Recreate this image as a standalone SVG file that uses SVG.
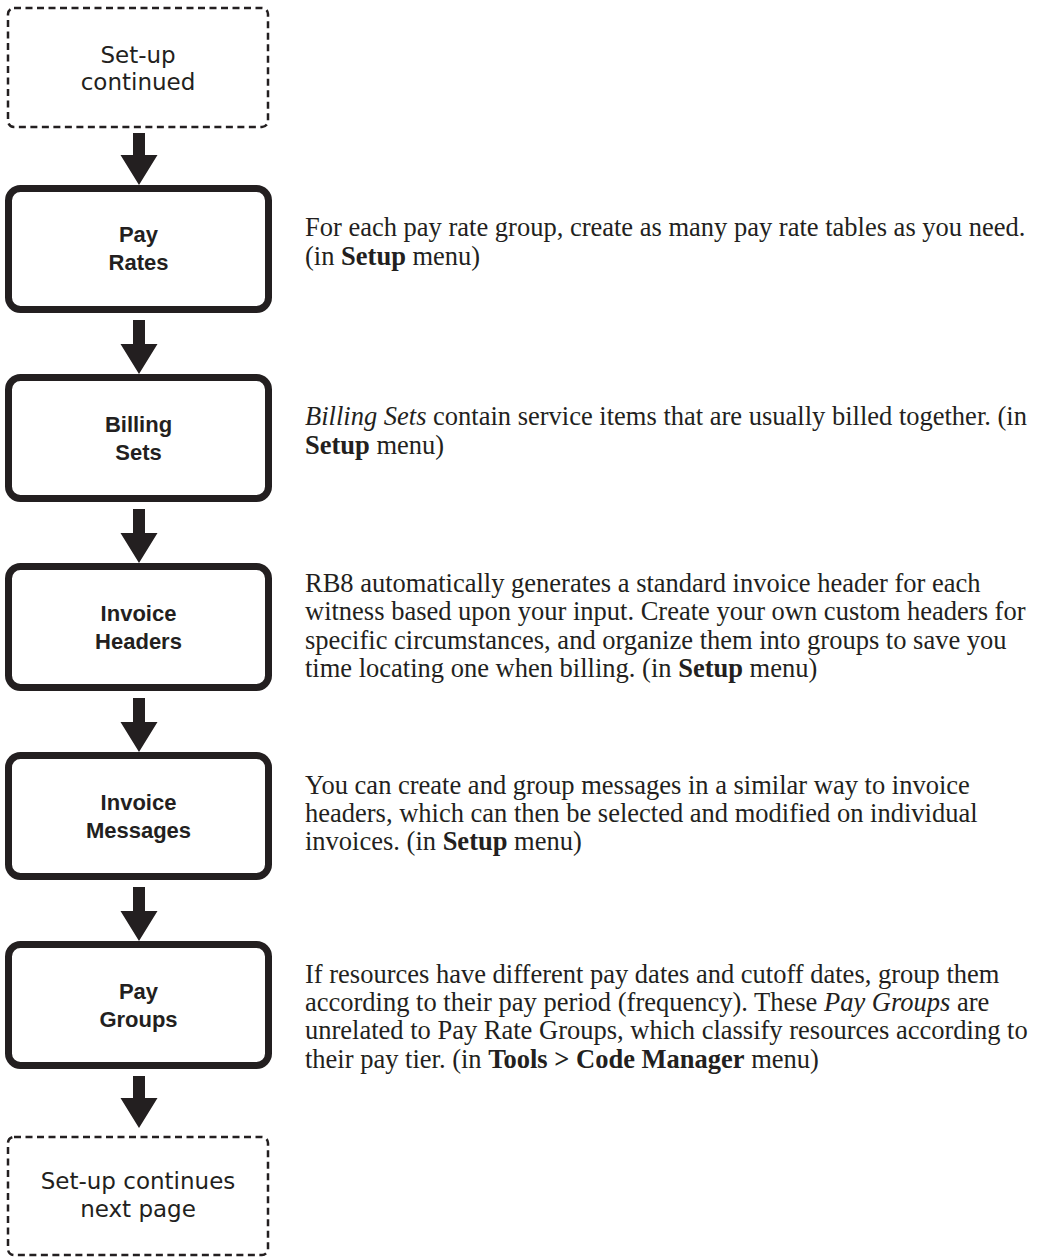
<svg xmlns="http://www.w3.org/2000/svg" width="1038" height="1257" viewBox="0 0 1038 1257">
<style>
.box{fill:#fff;stroke:#231f20;stroke-width:7}
.dbox{fill:#fff;stroke:#231f20;stroke-width:2.5;stroke-dasharray:7 4.5}
.lbl{font-family:"Liberation Sans",Arial,sans-serif;font-weight:bold;font-size:22px;fill:#231f20;text-anchor:middle}
.dlbl{font-family:"DejaVu Sans",sans-serif;font-size:23px;fill:#231f20;text-anchor:middle}
.desc{font-family:"Liberation Serif","Times New Roman",serif;font-size:26.5px;fill:#231f20}
.arr{fill:#231f20}
</style>
<rect width="1038" height="1257" fill="#fff"/>
<g id="connectors">
<path class="arr" d="M133,133 H145 V155 H157.5 L139,185 L120.5,155 H133 Z"/>
<path class="arr" d="M133,320 H145 V344 H157.5 L139,374 L120.5,344 H133 Z"/>
<path class="arr" d="M133,509 H145 V533 H157.5 L139,563 L120.5,533 H133 Z"/>
<path class="arr" d="M133,698 H145 V722 H157.5 L139,752 L120.5,722 H133 Z"/>
<path class="arr" d="M133,887 H145 V911 H157.5 L139,941 L120.5,911 H133 Z"/>
<path class="arr" d="M133,1076 H145 V1098 H157.5 L139,1128 L120.5,1098 H133 Z"/>
</g>
<g id="setup-continued">
<rect class="dbox" x="8" y="8" width="260" height="119" rx="6"/>
<text class="dlbl" x="138" y="63">Set-up</text>
<text class="dlbl" x="138" y="90">continued</text>
</g>
<g id="pay-rates">
<rect class="box" x="8.5" y="188.5" width="260" height="121" rx="12"/>
<text class="lbl" x="138.5" y="242">Pay</text>
<text class="lbl" x="138.5" y="270">Rates</text>
<text class="desc" x="305" y="236">For each pay rate group, create as many pay rate tables as you need.</text>
<text class="desc" x="305" y="265">(in <tspan font-weight="bold">Setup</tspan> menu)</text>
</g>
<g id="billing-sets">
<rect class="box" x="8.5" y="377.5" width="260" height="121" rx="12"/>
<text class="lbl" x="138.5" y="432">Billing</text>
<text class="lbl" x="138.5" y="460">Sets</text>
<text class="desc" x="305" y="425"><tspan font-style="italic">Billing Sets</tspan> contain service items that are usually billed together. (in</text>
<text class="desc" x="305" y="454"><tspan font-weight="bold">Setup</tspan> menu)</text>
</g>
<g id="invoice-headers">
<rect class="box" x="8.5" y="566.5" width="260" height="121" rx="12"/>
<text class="lbl" x="138.5" y="621">Invoice</text>
<text class="lbl" x="138.5" y="649">Headers</text>
<text class="desc" x="305" y="592">RB8 automatically generates a standard invoice header for each</text>
<text class="desc" x="305" y="620">witness based upon your input. Create your own custom headers for</text>
<text class="desc" x="305" y="649">specific circumstances, and organize them into groups to save you</text>
<text class="desc" x="305" y="677">time locating one when billing. (in <tspan font-weight="bold">Setup</tspan> menu)</text>
</g>
<g id="invoice-messages">
<rect class="box" x="8.5" y="755.5" width="260" height="121" rx="12"/>
<text class="lbl" x="138.5" y="810">Invoice</text>
<text class="lbl" x="138.5" y="838">Messages</text>
<text class="desc" x="305" y="794">You can create and group messages in a similar way to invoice</text>
<text class="desc" x="305" y="822">headers, which can then be selected and modified on individual</text>
<text class="desc" x="305" y="850">invoices. (in <tspan font-weight="bold">Setup</tspan> menu)</text>
</g>
<g id="pay-groups">
<rect class="box" x="8.5" y="944.5" width="260" height="121" rx="12"/>
<text class="lbl" x="138.5" y="999">Pay</text>
<text class="lbl" x="138.5" y="1027">Groups</text>
<text class="desc" x="305" y="983">If resources have different pay dates and cutoff dates, group them</text>
<text class="desc" x="305" y="1011">according to their pay period (frequency). These <tspan font-style="italic">Pay Groups</tspan> are</text>
<text class="desc" x="305" y="1039">unrelated to Pay Rate Groups, which classify resources according to</text>
<text class="desc" x="305" y="1068">their pay tier. (in <tspan font-weight="bold">Tools &gt; Code Manager</tspan> menu)</text>
</g>
<g id="setup-continues">
<rect class="dbox" x="8" y="1137" width="260" height="118" rx="6"/>
<text class="dlbl" x="138" y="1189">Set-up continues</text>
<text class="dlbl" x="138" y="1217">next page</text>
</g>
</svg>
